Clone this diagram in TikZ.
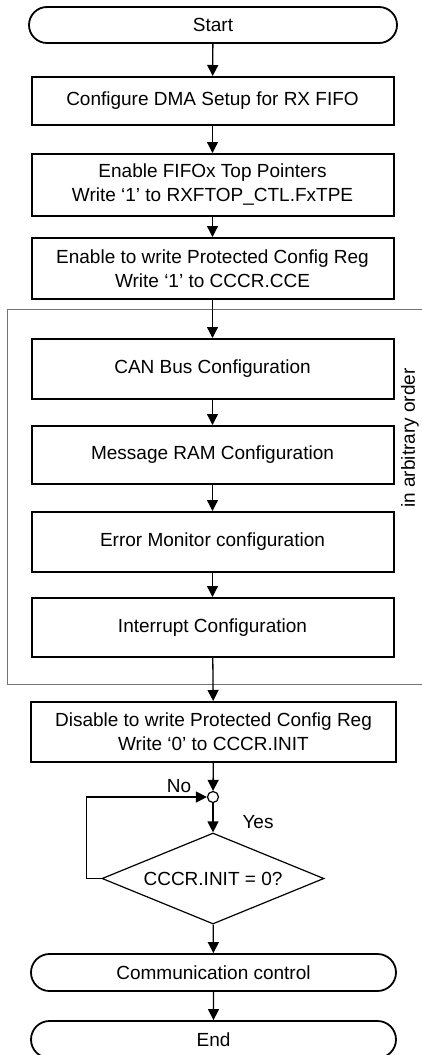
\documentclass[tikz,border=0pt]{standalone}
\usepackage{fontspec}
\setmainfont{Liberation Sans}
\usetikzlibrary{shapes.misc,shapes.geometric,arrows.meta}
\begin{document}
\begin{tikzpicture}[x=1pt,y=-1pt,
  font=\fontsize{19}{24}\selectfont,
  box/.style={draw=black,line width=2pt,rectangle,minimum width=362pt,inner sep=0pt,align=center},
  term/.style={draw=black,line width=1.8pt,rounded rectangle,minimum width=368pt,inner sep=0pt,align=center},
  arr/.style={line width=1.3pt,-{Triangle[length=11pt,width=11pt]}},
  frm/.style={draw=black!55,line width=1pt}]
\useasboundingbox (0,0) rectangle (422,1055);
\node[term,minimum height=36pt] (start) at (213,25) {Start};
\node[box,minimum height=48pt] (dma) at (212.5,101) {Configure DMA Setup for RX FIFO};
\node[box,minimum height=62pt] (fifo) at (212.5,185) {Enable FIFOx Top Pointers\\Write ‘1’ to RXFTOP\_CTL.FxTPE};
\node[box,minimum height=61pt] (prot) at (212.5,268.5) {Enable to write Protected Config Reg\\Write ‘1’ to CCCR.CCE};
\node[box,minimum height=60pt] (can) at (212.5,369) {CAN Bus Configuration};
\node[box,minimum height=58pt] (ram) at (212.5,455) {Message RAM Configuration};
\node[box,minimum height=60pt] (err) at (212.5,542) {Error Monitor configuration};
\node[box,minimum height=59pt] (int) at (212.5,627.5) {Interrupt Configuration};
\node[box,minimum height=60pt,minimum width=365pt] (dis) at (213.5,732) {Disable to write Protected Config Reg\\Write ‘0’ to CCCR.INIT};
\node[circle,draw=black,line width=1.2pt,minimum size=11pt,inner sep=0pt] (c) at (213,797) {};
\node[diamond,draw=black,line width=1.2pt,minimum width=222pt,minimum height=91pt,inner sep=0pt,aspect=2.44] (d) at (213,878.5) {CCCR.INIT = 0?};
\node[term,minimum height=37pt,minimum width=365pt] (com) at (213.5,972.5) {Communication control};
\node[term,minimum height=37pt,minimum width=365pt] (end) at (213.5,1039.5) {End};
% frame (open to the right)
\coordinate (ftr) at (422,309);
\coordinate (ftl) at (7,309);
\coordinate (fbl) at (7,684.5);
\coordinate (fbr) at (422,684.5);
\draw[frm] (ftr) -- (ftl) -- (fbl) -- (fbr);
\node[rotate=90,anchor=center] (lbl) at (410,438) {in arbitrary order};
% connectors
\draw[arr] (start) -- (dma);
\draw[arr] (dma) -- (fifo);
\draw[arr] (fifo) -- (prot);
\draw[arr] (prot) -- (can);
\draw[arr] (can) -- (ram);
\draw[arr] (ram) -- (err);
\draw[arr] (err) -- (int);
\draw[arr] (int) -- (dis);
\draw[arr] (dis) -- (c);
\draw[arr] (c) -- (d);
\draw[arr] (d) -- (com);
\draw[arr] (com) -- (end);
\draw[arr] (d.west) -- ++(-15,0) |- (c.west);
\node (no) at (179,786) {No};
\node (yes) at (258,822) {Yes};
\end{tikzpicture}
\end{document}
